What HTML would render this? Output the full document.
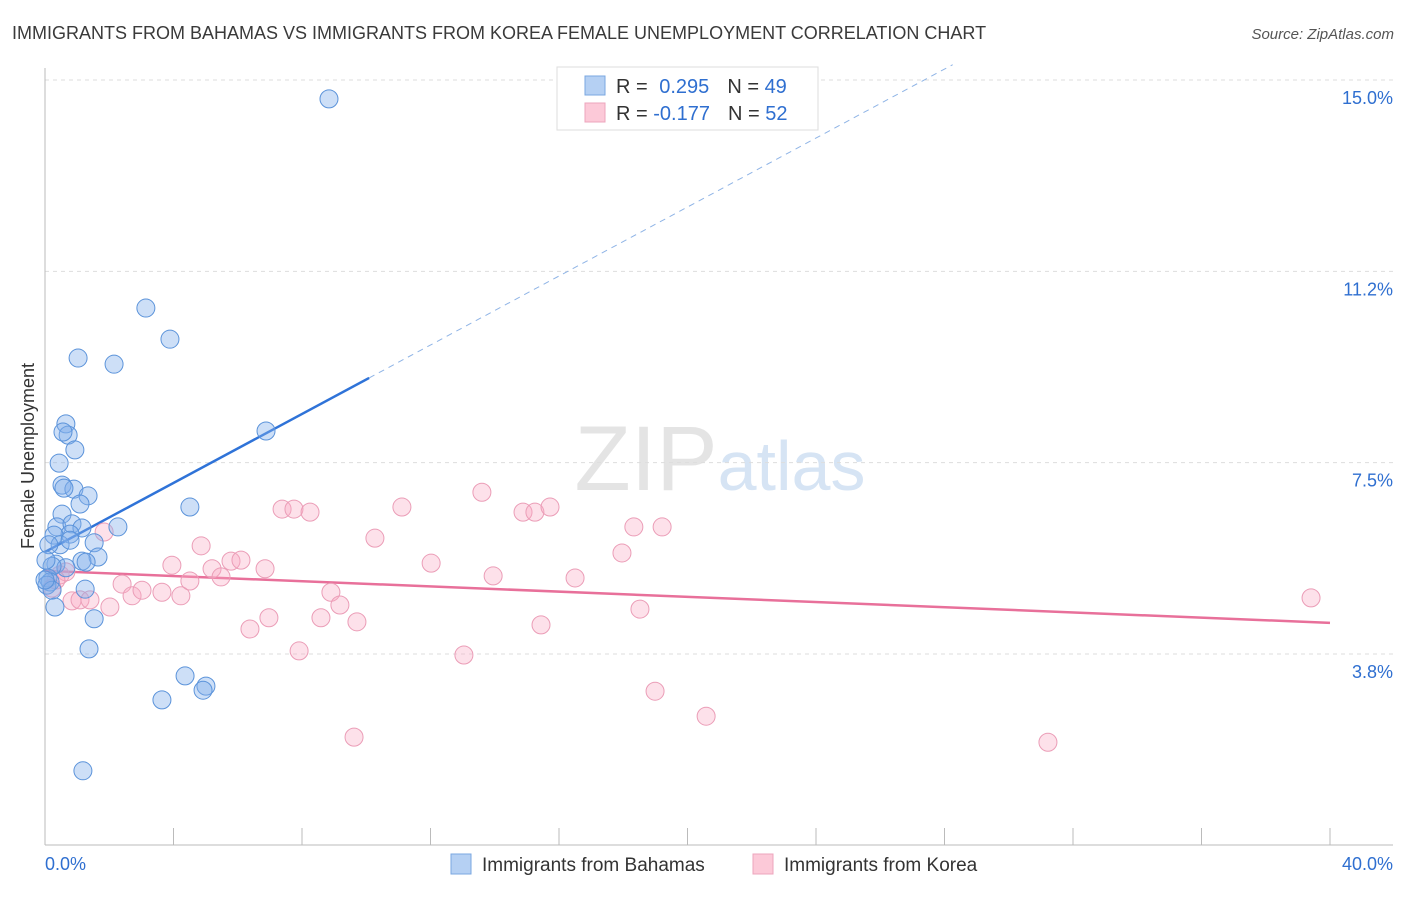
<!DOCTYPE html>
<html><head><meta charset="utf-8"><style>
body{margin:0;background:#fff;font-family:"Liberation Sans",sans-serif}
svg text{font-family:"Liberation Sans",sans-serif}
</style></head><body>
<svg id="chart" width="1406" height="892" xmlns="http://www.w3.org/2000/svg">
<text x="12" y="39" font-size="18" fill="#3a3a3a">IMMIGRANTS FROM BAHAMAS VS IMMIGRANTS FROM KOREA FEMALE UNEMPLOYMENT CORRELATION CHART</text>
<text x="1394" y="39" font-size="15" fill="#555" text-anchor="end" font-style="italic">Source: ZipAtlas.com</text>
<text x="720" y="490" font-size="92" fill="#e4e4e4" text-anchor="middle" font-family="Liberation Serif">ZIP<tspan fill="#d6e4f4" font-family="Liberation Sans" font-size="70">atlas</tspan></text>
<text transform="translate(34,456) rotate(-90)" font-size="18" fill="#333" text-anchor="middle">Female Unemployment</text>
<g id="grid"></g><g id="axes"></g><g id="trend"></g><g id="pts"></g>
<g>
<rect x="557" y="67" width="261" height="63" fill="#fff" stroke="#ddd"/>
<rect x="585" y="76" width="20" height="19" fill="#b5d0f3" stroke="#7aa7e0"/>
<rect x="585" y="103" width="20" height="19" fill="#fcc9d8" stroke="#eda5bc"/>
<text x="616" y="93" font-size="20" fill="#333">R = <tspan fill="#2f6fd0" dx="6">0.295</tspan><tspan dx="18" fill="#333">N = </tspan><tspan fill="#2f6fd0">49</tspan></text>
<text x="616" y="120" font-size="20" fill="#333">R = <tspan fill="#2f6fd0">-0.177</tspan><tspan dx="18" fill="#333">N = </tspan><tspan fill="#2f6fd0">52</tspan></text>
</g>
<g>
<rect x="451" y="854" width="20" height="20" fill="#b5d0f3" stroke="#7aa7e0"/>
<text x="482" y="871" font-size="19" fill="#333">Immigrants from Bahamas</text>
<rect x="753" y="854" width="20" height="20" fill="#fcc9d8" stroke="#eda5bc"/>
<text x="784" y="871" font-size="19" fill="#333">Immigrants from Korea</text>
</g>
</svg>
<script>
const yTicks=[3.75,7.5,11.25,15];
const yTickLabels=["3.8%","7.5%","11.2%","15.0%"];
const xTickCount=10;
const xLabels=["0.0%","40.0%"];
const bahamasX=[8.84,3.14,3.89,1.03,2.15,0.65,0.72,0.56,0.93,6.88,0.44,0.53,0.90,0.59,1.34,1.09,4.51,0.53,0.37,0.84,1.15,2.27,0.78,0.28,0.47,1.53,0.12,0.78,1.65,1.15,1.28,0.34,0.65,0.22,0.09,0.16,0.06,0.22,1.25,0.31,1.53,1.37,4.36,5.01,4.92,3.64,1.18,0.0,0.03];
const bahamasY=[14.63,10.53,9.92,9.55,9.43,8.26,8.04,8.10,7.75,8.12,7.49,7.06,6.98,7.00,6.85,6.69,6.63,6.49,6.24,6.30,6.22,6.24,6.10,6.08,5.89,5.93,5.89,5.98,5.65,5.57,5.55,5.51,5.44,5.47,5.24,5.16,5.10,5.00,5.02,4.67,4.44,3.85,3.32,3.12,3.04,2.85,1.46,5.20,5.59];
const koreaX=[1.84,0.47,0.65,0.34,0.22,0.84,1.09,1.40,2.02,2.40,2.71,3.02,3.64,4.23,3.95,4.51,4.86,5.20,5.48,5.79,6.10,6.38,6.85,6.97,7.38,7.75,8.25,7.91,8.59,8.90,9.18,9.71,9.62,10.27,11.11,12.02,13.04,13.60,13.95,14.88,15.25,15.44,15.72,16.50,17.96,18.33,18.52,18.99,19.21,20.58,31.22,39.41];
const koreaY=[6.14,5.30,5.36,5.20,5.04,4.79,4.81,4.81,4.67,5.12,4.89,5.00,4.96,4.89,5.49,5.18,5.87,5.42,5.26,5.57,5.59,4.24,5.42,4.46,6.59,6.59,6.53,3.81,4.46,4.96,4.71,4.38,2.12,6.02,6.63,5.53,3.73,6.92,5.28,6.53,6.53,4.32,6.63,5.24,5.73,6.24,4.63,3.02,6.24,2.53,2.02,4.85];
const blueTrend=[5.75,0.338];   // intercept, slope
const blueSolidEnd=10.09;
const pinkTrend=[5.38,-0.0255];
const NS="http://www.w3.org/2000/svg";
const X=v=>45+v/40*1285, Y=v=>80+(15-v)*51.02;
function mk(tag,attrs,parent){const e=document.createElementNS(NS,tag);for(const k in attrs)e.setAttribute(k,attrs[k]);document.getElementById(parent).appendChild(e);return e;}
yTicks.forEach((t,i)=>{
 const l=mk('line',{x1:45,x2:1393,y1:Y(t),y2:Y(t),stroke:'#ddd','stroke-dasharray':'4,4'},'grid');
 
 
 const tx=mk('text',{x:1393,y:Y(t)+24,'font-size':18,fill:'#2f6fd0','text-anchor':'end'},'grid');
 tx.textContent=yTickLabels[i];
 
 
});
let a=mk('line',{x1:45,x2:45,y1:68,y2:845,stroke:'#bbb'},'axes');


a=mk('line',{x1:45,x2:1393,y1:845,y2:845,stroke:'#bbb'},'axes');


for(let i=0;i<=xTickCount;i++){
 const t=mk('line',{x1:X(i*4),x2:X(i*4),y1:828,y2:845,stroke:'#bbb'},'axes');
 
 
}
[[0,'start',45],[40,'end',1393]].forEach((d,i)=>{
 const t=mk('text',{x:d[2],y:870,'font-size':18,fill:'#2f6fd0','text-anchor':d[1]},'axes');
 t.textContent=xLabels[i];
 
 
});
const bEnd=(15.3-blueTrend[0])/blueTrend[1];
let tl=mk('line',{x1:X(0),y1:Y(blueTrend[0]),x2:X(blueSolidEnd),y2:Y(blueTrend[0]+blueTrend[1]*blueSolidEnd),stroke:'#2f73d8','stroke-width':2.5},'trend');


tl=mk('line',{x1:X(blueSolidEnd),y1:Y(blueTrend[0]+blueTrend[1]*blueSolidEnd),x2:X(bEnd),y2:Y(15.3),stroke:'#8fb4e6','stroke-width':1,'stroke-dasharray':'6,5'},'trend');


tl=mk('line',{x1:X(0),y1:Y(pinkTrend[0]),x2:X(40),y2:Y(pinkTrend[0]+pinkTrend[1]*40),stroke:'#e8709a','stroke-width':2.5},'trend');


koreaX.forEach((x,i)=>{
 const c=mk('circle',{cx:X(x),cy:Y(koreaY[i]),r:9,fill:'rgba(248,170,195,0.35)',stroke:'#eb9db7','stroke-width':1},'pts');
 
 
});
bahamasX.forEach((x,i)=>{
 const c=mk('circle',{cx:X(x),cy:Y(bahamasY[i]),r:9,fill:'rgba(130,175,235,0.4)',stroke:'#5b93da','stroke-width':1},'pts');
 
 
});
</script>
</body></html>
